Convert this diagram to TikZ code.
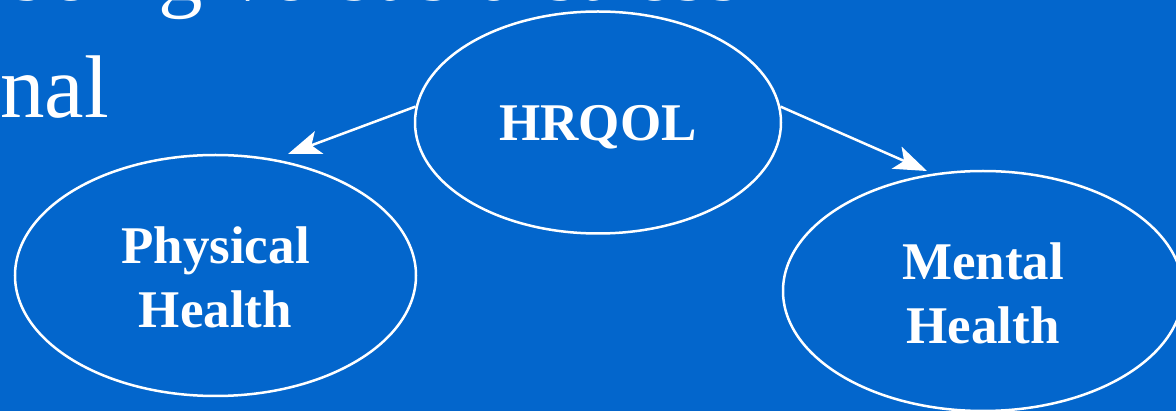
\documentclass[tikz,border=0pt]{standalone}
\usepackage{fontspec}
\setmainfont{Liberation Serif}
\usetikzlibrary{shapes.geometric,arrows.meta}
\definecolor{slideblue}{RGB}{3,102,204}
\newcommand{\shiftdown}[2]{\raisebox{-#1}[\height][\depth]{#2}}
\begin{document}
\begin{tikzpicture}[x=1pt,y=-1pt,
  oval/.style={ellipse,draw=white,line width=2.5pt,inner sep=0pt,text=white,
    font=\fontsize{53}{64}\selectfont\bfseries,align=center},
  link/.style={draw=white,line width=2.5pt,-{Stealth[length=33pt,width=24pt,inset=8pt]}},
  slidetext/.style={text=white,font=\fontsize{89}{100}\selectfont,inner sep=0pt,anchor=base west}]
\useasboundingbox[fill=slideblue] (0,0) rectangle (1176,411);
\begin{scope}
\clip (0,0) rectangle (1176,411);
\node[slidetext] (top) at (5,1) {being versus distress};
\node[slidetext] (nal) at (0,118) {nal};
\node[oval,minimum width=366pt,minimum height=222pt] (hrqol) at (598,122.5) {\shiftdown{5pt}{HRQOL}};
\node[oval,minimum width=401pt,minimum height=241pt] (phys) at (215.5,275.5)
  {\shiftdown{2pt}{Physical}\\\shiftdown{2pt}{Health}};
\node[oval,minimum width=400pt,minimum height=240pt] (ment) at (983,291)
  {\shiftdown{2pt}{Mental}\\\shiftdown{2pt}{Health}};
\coordinate (phystip) at (288,154);
\coordinate (menttip) at (927,171);
\draw[link] (hrqol.175) -- (phystip);
\draw[link] (hrqol.5) -- (menttip);
\end{scope}
\end{tikzpicture}
\end{document}
